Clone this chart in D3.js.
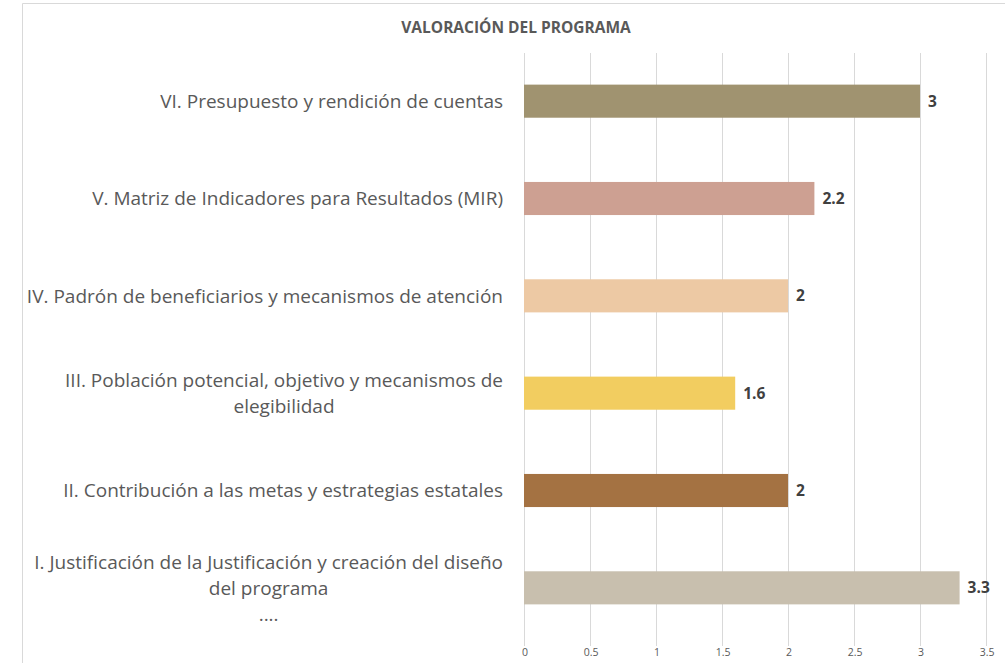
<!DOCTYPE html>
<html>
<head>
<meta charset="utf-8">
<script src="https://cdn.jsdelivr.net/npm/d3@7"></script>
<style>
  body { margin: 0; background: #fff; }
  svg { display: block; font-family: "Open Sans", sans-serif; }
</style>
</head>
<body>
<svg width="1005" height="663"></svg>
<script>
// categories, top to bottom as drawn
let categories = [
  ['VI. Presupuesto y rendición de cuentas'],
  ['V. Matriz de Indicadores para Resultados (MIR)'],
  ['IV. Padrón de beneficiarios y mecanismos de atención'],
  ['III. Población potencial, objetivo y mecanismos de', 'elegibilidad'],
  ['II. Contribución a las metas y estrategias estatales'],
  ['I. Justificación de la Justificación y creación del diseño', 'del programa', '....']
]
let values = [3, 2.2, 2, 1.6, 2, 3.3]
let colors = ['#A09370', '#CDA092', '#EDC9A4', '#F2CD60', '#A47242', '#C8BFAE']
let ticks = [0, 0.5, 1, 1.5, 2, 2.5, 3, 3.5]
let title = 'VALORACIÓN DEL PROGRAMA'

let width = 1005
let height = 663
let margin = { top: 53, bottom: 27, left: 524, right: 19 }

let svg = d3.select('svg')

// chart frame
svg.append('path')
  .attr('d', 'M22.5,' + height + 'V3.5H' + width)
  .attr('fill', 'none')
  .attr('stroke', '#D9D9D9')

let xScale = d3.scaleLinear()
  .domain([0, 3.5])
  .range([margin.left, margin.left + 132 * 3.5])

let yScale = d3.scaleBand()
  .domain(d3.range(categories.length))
  .range([margin.top - 0.5, height - margin.bottom + 0.5])
  .paddingInner(0.66)
  .paddingOuter(0.33)

// gridlines
svg.append('g')
  .selectAll('line')
  .data(ticks)
  .join('line')
  .attr('x1', d => Math.round(xScale(d)) + 0.5)
  .attr('x2', d => Math.round(xScale(d)) + 0.5)
  .attr('y1', margin.top)
  .attr('y2', height - margin.bottom + 10)
  .attr('stroke', '#D9D9D9')

let xAxis = d3.axisBottom(xScale)
  .tickValues(ticks)
  .tickSize(0)
  .tickPadding(0)
  .tickFormat(d3.format('~g'))

let ax = svg.append('g')
  .attr('transform', 'translate(' + [0.5, 656] + ')')
  .call(xAxis)
ax.select('.domain').remove()
ax.selectAll('text')
  .attr('font-family', '"Open Sans", sans-serif')
  .attr('font-size', 10.5)
  .attr('fill', '#595959')
  .attr('dy', 0)

// bars
svg.append('g')
  .selectAll('rect')
  .data(values)
  .join('rect')
  .attr('x', xScale(0))
  .attr('y', (d, i) => yScale(i))
  .attr('width', d => xScale(d) - xScale(0))
  .attr('height', yScale.bandwidth())
  .attr('fill', (d, i) => colors[i])

// value labels
svg.append('g')
  .selectAll('text')
  .data(values)
  .join('text')
  .attr('x', d => xScale(d) + 8)
  .attr('y', (d, i) => yScale(i) + yScale.bandwidth() / 2)
  .attr('dy', '0.36em')
  .attr('font-size', 15.5)
  .attr('font-weight', 'bold')
  .attr('fill', '#404040')
  .text(d => d)

// category labels: right edge at 503, wrapped lines centred on the widest
let labelRight = 503
let lineH = 26
categories.forEach((lines, i) => {
  let cy = yScale(i) + yScale.bandwidth() / 2
  let g = svg.append('g')
  let texts = g.selectAll('text')
    .data(lines)
    .join('text')
    .attr('font-size', 19)
    .attr('fill', '#595959')
    .attr('text-anchor', 'middle')
    .attr('y', (d, j) => cy + (j - (lines.length - 1) / 2) * lineH)
    .attr('dy', '0.36em')
    .text(d => d)
  let maxW = d3.max(texts.nodes(), n => n.getComputedTextLength())
  texts.attr('x', labelRight - maxW / 2)
})

svg.append('text')
  .attr('x', 516)
  .attr('y', 27)
  .attr('dy', '0.36em')
  .attr('text-anchor', 'middle')
  .attr('font-size', 15.5)
  .attr('font-weight', 'bold')
  .attr('fill', '#595959')
  .text(title)
</script>
</body>
</html>
